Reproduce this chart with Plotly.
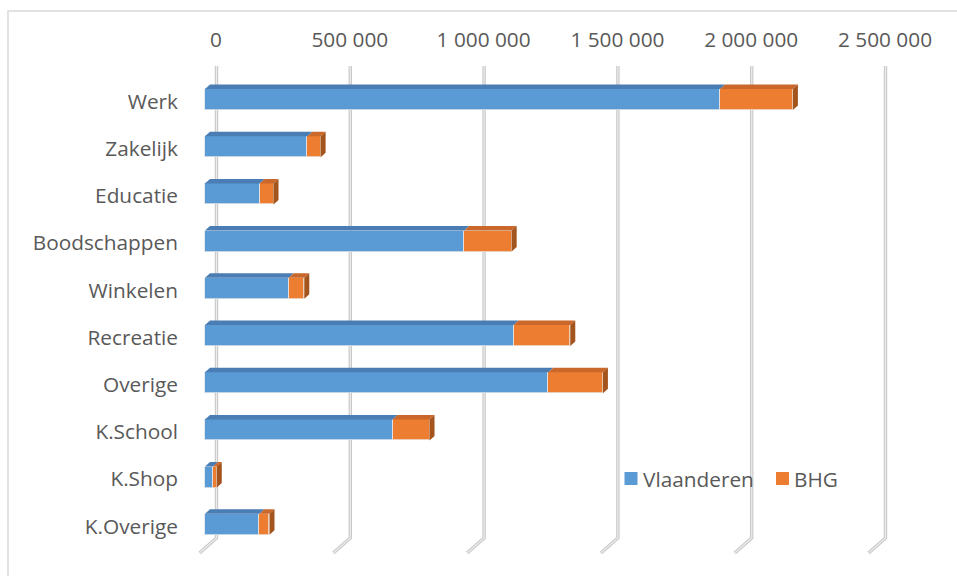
import plotly.graph_objects as go

# Trips per purpose, split by region
categories = ["Werk", "Zakelijk", "Educatie", "Boodschappen", "Winkelen",
              "Recreatie", "Overige", "K.School", "K.Shop", "K.Overige"]
vlaanderen = [1925000, 383000, 204000, 969000, 313000,
              1153000, 1283000, 701000, 30000, 203000]
bhg = [272000, 49000, 52000, 177000, 58000,
       212000, 204000, 138000, 14000, 38000]
tick_values = [0, 500000, 1000000, 1500000, 2000000, 2500000]
tick_labels = ["0", "500 000", "1 000 000", "1 500 000", "2 000 000", "2 500 000"]
series_names = ["Vlaanderen", "BHG"]

# ---- layout geometry (pixels) ----
W, H = 957, 576
ML, MR, MT, MB = 185, 27, 60, 16
PLOT_W = W - ML - MR
PLOT_H = H - MT - MB
ZERO_PX = 205                 # screen x of value 0 on the bar front plane
PX_PER_VAL = 133.8 / 500000   # horizontal scale
ROW0_PX = 99.5                # centre of first bar
ROW_PX = 47.2                 # distance between bars
BAR_W = 21 / ROW_PX           # bar thickness in category units

def val_from_px(px):
    return (px - ZERO_PX) / PX_PER_VAL

def row_from_px(py):
    return (py - ROW0_PX) / ROW_PX

def dval(px):
    return px / PX_PER_VAL

def drow(px):
    return px / ROW_PX

def paper_x(px):
    return (px - ML) / PLOT_W

def paper_y(py):
    return (H - MB - py) / PLOT_H

FONT = "Open Sans"
FS = 20.8
TXT = "#595959"
BLUE, BLUE_TOP = "#5b9bd5", "#497db4"
ORANGE, ORANGE_TOP, ORANGE_SIDE = "#ed7d31", "#c9682a", "#a4541d"

rows = list(range(len(categories)))

fig = go.Figure()
fig.add_trace(go.Bar(
    y=rows, x=vlaanderen, orientation="h", name=series_names[0],
    width=BAR_W, marker=dict(color=BLUE, line=dict(color="#dfe3e8", width=0.8)),
    showlegend=False))
fig.add_trace(go.Bar(
    y=rows, x=bhg, orientation="h", name=series_names[1],
    width=BAR_W, marker=dict(color=ORANGE, line=dict(color="#e8e2dc", width=0.8)),
    showlegend=False))

shapes = []

# 3-D wall gridlines: vertical on the back wall, then slanting to the floor front
back_dx = dval(11.5)
front_dx = dval(-5.5)
y_top = row_from_px(66)
y_bot = row_from_px(538)
y_front = row_from_px(553)
for v in tick_values:
    path = (f"M {v + back_dx},{y_top} L {v + back_dx},{y_bot} "
            f"L {v + front_dx},{y_front}")
    shapes.append(dict(type="path", path=path, xref="x", yref="y", layer="below",
                       line=dict(color="#c9c9c9", width=3.4)))
    shapes.append(dict(type="path", path=path, xref="x", yref="y", layer="below",
                       line=dict(color="#ececec", width=1.2)))

# 3-D faces of the bars (top faces per segment, side face at the end of the stack)
dx = dval(5)
dy = drow(4.5)
for i, (a, b) in enumerate(zip(vlaanderen, bhg)):
    yt = i - BAR_W / 2
    yb = i + BAR_W / 2
    for x0, x1, col in ((0, a, BLUE_TOP), (a, a + b, ORANGE_TOP)):
        shapes.append(dict(
            type="path", xref="x", yref="y", layer="above",
            path=(f"M {x0},{yt} L {x0 + dx},{yt - dy} L {x1 + dx},{yt - dy} "
                  f"L {x1},{yt} Z"),
            fillcolor=col, line=dict(width=0)))
    end = a + b
    shapes.append(dict(
        type="path", xref="x", yref="y", layer="above",
        path=(f"M {end},{yt} L {end + dx},{yt - dy} L {end + dx},{yb - dy} "
              f"L {end},{yb} Z"),
        fillcolor=ORANGE_SIDE, line=dict(width=0)))

# chart frame
shapes.append(dict(type="rect", xref="paper", yref="paper",
                   x0=paper_x(8), x1=paper_x(962), y0=paper_y(582), y1=paper_y(11),
                   line=dict(color="#d9d9d9", width=1.5), fillcolor="rgba(0,0,0,0)"))

# legend
annotations = []
legend_items = [(624.5, BLUE, series_names[0]), (776, ORANGE, series_names[1])]
for px, col, name in legend_items:
    shapes.append(dict(type="rect", xref="paper", yref="paper",
                       x0=paper_x(px), x1=paper_x(px + 13),
                       y0=paper_y(485), y1=paper_y(472),
                       fillcolor=col, line=dict(width=0)))
    annotations.append(dict(xref="paper", yref="paper", x=paper_x(px + 16),
                            y=paper_y(478.5), text=name, showarrow=False,
                            xanchor="left", yanchor="middle",
                            font=dict(family=FONT, size=FS, color=TXT)))

fig.update_layout(
    width=W, height=H,
    margin=dict(l=ML, r=MR, t=MT, b=MB),
    paper_bgcolor="white", plot_bgcolor="white",
    barmode="stack", bargap=0,
    showlegend=False,
    shapes=shapes, annotations=annotations,
    font=dict(family=FONT, size=FS, color=TXT),
    xaxis=dict(
        side="top", range=[val_from_px(ML), val_from_px(W - MR)],
        tickvals=tick_values, ticktext=tick_labels,
        ticks="", showgrid=False, zeroline=False, showline=False,
        ticklabelshift=11, ticklabelstandoff=8,
        tickfont=dict(family=FONT, size=FS, color=TXT)),
    yaxis=dict(
        range=[row_from_px(H - MB), row_from_px(MT)],
        tickvals=rows, ticktext=categories,
        ticks="", showgrid=False, zeroline=False, showline=False,
        ticklabelstandoff=6, ticklabelshift=-2,
        tickfont=dict(family=FONT, size=FS, color=TXT)),
)

fig.write_html("out.html")
